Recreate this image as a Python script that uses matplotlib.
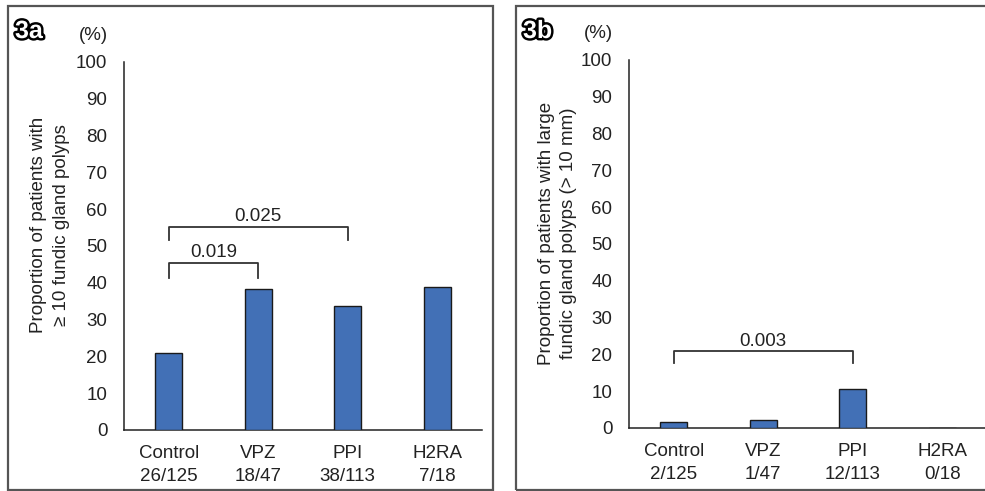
import matplotlib
matplotlib.use("Agg")
import matplotlib.pyplot as plt
import matplotlib.patheffects as pe
from matplotlib.patches import Rectangle

plt.rcParams['font.family'] = ['Liberation Sans', 'DejaVu Sans']

categories = ["Control", "VPZ", "PPI", "H2RA"]
counts_a = ["26/125", "18/47", "38/113", "7/18"]
values_a = [20.8, 38.3, 33.6, 38.9]
counts_b = ["2/125", "1/47", "12/113", "0/18"]
values_b = [1.6, 2.1, 10.6, 0.0]
yticks = [0, 10, 20, 30, 40, 50, 60, 70, 80, 90, 100]
ylabel_a = "Proportion of patients with\n\u2265 10 fundic gland polyps"
ylabel_b = "Proportion of patients with large\nfundic gland polyps (> 10 mm)"
# brackets: (start index, end index, top y, leg bottom y, text)
brackets_a = [(0, 1, 45.4, 41.3, "0.019"), (0, 2, 55.2, 51.6, "0.025")]
brackets_b = [(0, 2, 20.9, 17.7, "0.003")]

W, H = 985, 491
fig = plt.figure(figsize=(W / 100, H / 100), dpi=100)

BAR = '#4270B6'
FS = 13.5


def px_axes(left, bottom_px, width, height):
    return fig.add_axes([left / W, (H - bottom_px) / H, width / W, height / H])


def panel(ax, values, counts, ylabel, brackets, lab_x, lab_y):
    x = list(range(len(categories)))
    ax.bar(x, values, width=0.3, color=BAR, edgecolor='#1a1a1a', linewidth=1.0, zorder=3)
    ax.set_xlim(-0.5, len(categories) - 0.5)
    ax.set_ylim(0, 100)
    ax.set_yticks(yticks)
    ax.set_yticklabels([str(t) for t in yticks], fontsize=FS, color='#222222')
    ax.set_xticks(x)
    ax.set_xticklabels([f"{c}\n{n}" for c, n in zip(categories, counts)],
                       fontsize=FS, color='#222222', linespacing=1.45)
    ax.tick_params(axis='y', length=0, pad=12)
    ax.tick_params(axis='x', length=0, pad=11)
    for s in ['top', 'right']:
        ax.spines[s].set_visible(False)
    for s in ['left', 'bottom']:
        ax.spines[s].set_color('#222222')
        ax.spines[s].set_linewidth(1.1)
    ax.set_ylabel(ylabel, fontsize=FS, color='#222222', linespacing=1.4)
    ax.yaxis.set_label_coords(lab_x, lab_y)
    ax.patch.set_alpha(0)
    for i0, i1, top, bot, txt in brackets:
        ax.plot([i0, i0, i1, i1], [bot, top, top, bot], color='#333333', lw=1.3,
                clip_on=False, zorder=4)
        ax.text((i0 + i1) / 2, top + 0.4, txt, ha='center', va='bottom',
                fontsize=FS, color='#222222')
    ax.text(-0.045, 1.05, "(%)", transform=ax.transAxes, ha='right', va='bottom',
            fontsize=FS, color='#222222')


ax_a = px_axes(124, 430, 358, 368)
panel(ax_a, values_a, counts_a, ylabel_a, brackets_a, -0.152, 0.557)

ax_b = px_axes(629, 428, 358, 368)
panel(ax_b, values_b, counts_b, ylabel_b, brackets_b, -0.145, 0.53)

# panel borders
for x0, x1 in [(8, 493), (516, 995)]:
    fig.patches.append(Rectangle((x0 / W, (H - 490) / H), (x1 - x0) / W, (490 - 6) / H,
                                 transform=fig.transFigure, fill=False,
                                 edgecolor='#555555', linewidth=1.6, zorder=0))

for xp, lab in [(15, "3a"), (523, "3b")]:
    t = fig.text(xp / W, (H - 38) / H, lab, fontsize=18, fontweight='bold',
                 color='white', ha='left', va='baseline')
    t.set_path_effects([pe.Stroke(linewidth=3.5, foreground='black'), pe.Normal()])

fig.savefig("out.png", dpi=100)
